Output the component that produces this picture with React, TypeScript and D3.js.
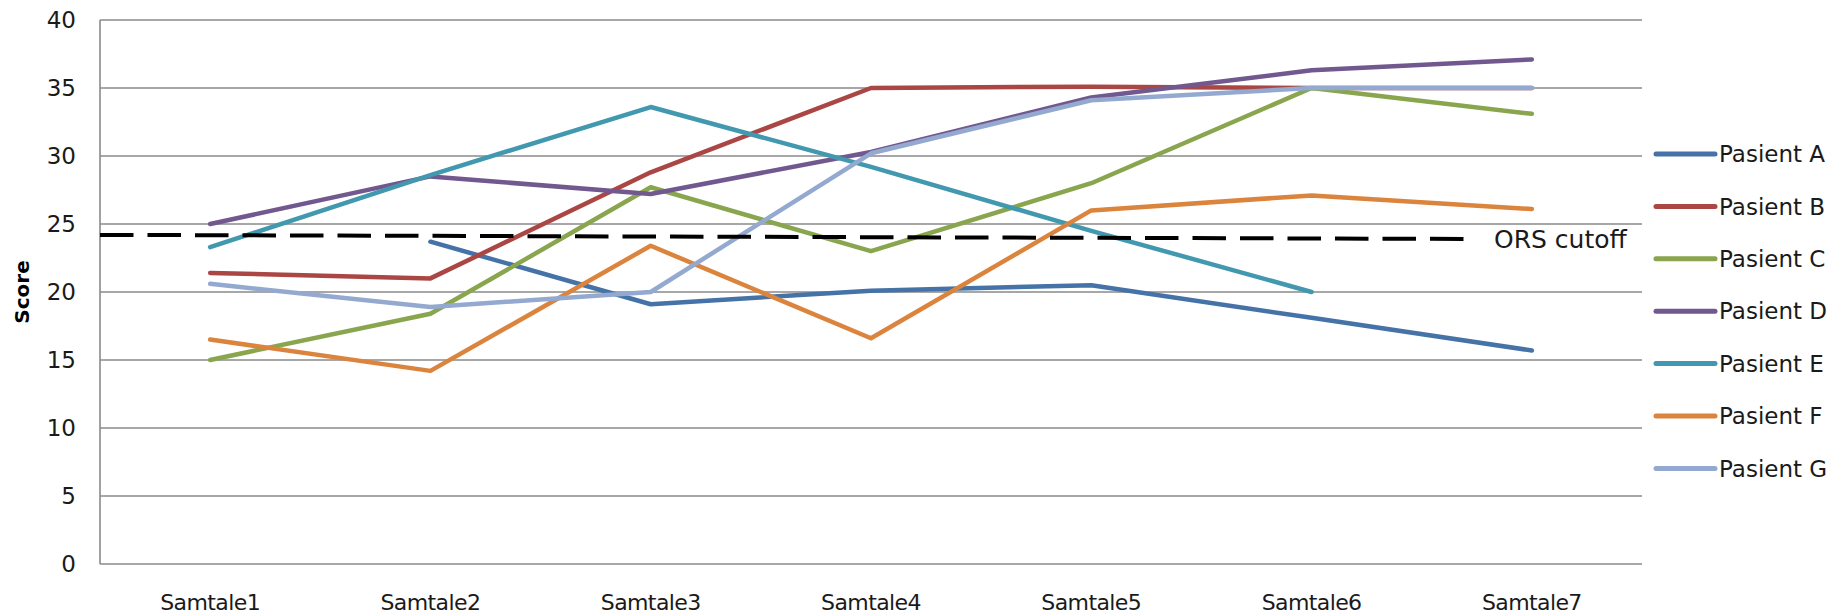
import React, { useEffect, useRef } from 'react';
import * as d3 from 'd3';

const WIDTH = 1841;
const HEIGHT = 616;

// categories along the x axis
const sessions = ['Samtale 1', 'Samtale 2', 'Samtale 3', 'Samtale 4', 'Samtale 5', 'Samtale 6', 'Samtale 7'];

// one array per patient (null = no conversation)
const pasientA = [null, 23.7, 19.1, 20.1, 20.5, 18.1, 15.7];
const pasientB = [21.4, 21.0, 28.8, 35.0, 35.1, 35.0, 35.0];
const pasientC = [15.0, 18.4, 27.7, 23.0, 28.0, 35.0, 33.1];
const pasientD = [25.0, 28.5, 27.2, 30.3, 34.3, 36.3, 37.1];
const pasientE = [23.3, 28.6, 33.6, 29.2, 24.5, 20.0, null];
const pasientF = [16.5, 14.2, 23.4, 16.6, 26.0, 27.1, 26.1];
const pasientG = [20.6, 18.9, 20.0, 30.2, 34.1, 35.0, 35.0];

const seriesNames = ['Pasient A', 'Pasient B', 'Pasient C', 'Pasient D', 'Pasient E', 'Pasient F', 'Pasient G'];
const seriesValues = [pasientA, pasientB, pasientC, pasientD, pasientE, pasientF, pasientG];
const seriesColors = ['#4572A7', '#AA4643', '#89A54E', '#71588F', '#4198AF', '#DB843D', '#93A9CF'];

const yTicks = [0, 5, 10, 15, 20, 25, 30, 35, 40];

// the hand drawn cutoff line, start and end value
const cutoffValues = [24.2, 23.9];
const cutoffLabel = 'ORS cutoff';

const FONT = '"DejaVu Sans", sans-serif';

function Chart() {
  const ref = useRef<SVGSVGElement>(null);

  useEffect(() => {
    const svg = d3.select(ref.current);
    svg.selectAll('*').remove();

    const plot = { left: 100, right: 1642, top: 20, bottom: 564 };

    const x = d3.scaleBand().domain(sessions).range([plot.left, plot.right]);
    const cx = (c: string) => (x(c) as number) + x.bandwidth() / 2;
    const y = d3.scaleLinear().domain([0, 40]).range([plot.bottom, plot.top]);

    // gridlines
    svg
      .append('g')
      .selectAll('line')
      .data(yTicks)
      .enter()
      .append('line')
      .attr('x1', plot.left)
      .attr('x2', plot.right)
      .attr('y1', (d) => y(d))
      .attr('y2', (d) => y(d))
      .attr('stroke', '#8a8a8a')
      .attr('stroke-width', 1.6);

    // y axis line
    svg
      .append('line')
      .attr('x1', plot.left)
      .attr('x2', plot.left)
      .attr('y1', y(40))
      .attr('y2', y(0))
      .attr('stroke', '#8a8a8a')
      .attr('stroke-width', 1.6);

    // y tick labels
    svg
      .append('g')
      .selectAll('text')
      .data(yTicks)
      .enter()
      .append('text')
      .attr('x', 76)
      .attr('y', (d) => y(d))
      .attr('dy', '0.36em')
      .attr('text-anchor', 'end')
      .attr('font-family', FONT)
      .attr('font-size', 23)
      .attr('fill', '#1a1a1a')
      .text((d) => d);

    // x labels
    svg
      .append('g')
      .selectAll('text')
      .data(sessions)
      .enter()
      .append('text')
      .attr('x', (d) => cx(d))
      .attr('y', 610)
      .attr('text-anchor', 'middle')
      .attr('font-family', FONT)
      .attr('font-size', 22)
      .attr('letter-spacing', -0.6)
      .attr('fill', '#1a1a1a')
      .text((d) => d.replace(' ', ''));

    // axis title
    svg
      .append('text')
      .attr('transform', `translate(29,292) rotate(-90)`)
      .attr('text-anchor', 'middle')
      .attr('font-family', FONT)
      .attr('font-weight', 'bold')
      .attr('font-size', 20)
      .attr('fill', '#000')
      .text('Score');

    // series lines
    const line = d3
      .line<number | null>()
      .defined((d) => d != null)
      .x((_d, i) => cx(sessions[i]))
      .y((d) => y(d as number));

    seriesValues.forEach((vals, i) => {
      svg
        .append('path')
        .datum(vals)
        .attr('fill', 'none')
        .attr('stroke', seriesColors[i])
        .attr('stroke-width', 4.5)
        .attr('stroke-linejoin', 'round')
        .attr('stroke-linecap', 'round')
        .attr('d', line);
    });

    // cutoff dashes, spans most of the plot width
    const frac = d3.scaleLinear().domain([0, 1]).range([plot.left, plot.right]);
    svg
      .append('line')
      .attr('x1', frac(0))
      .attr('x2', frac(0.891))
      .attr('y1', y(cutoffValues[0]))
      .attr('y2', y(cutoffValues[1]))
      .attr('stroke', '#000')
      .attr('stroke-width', 4)
      .attr('stroke-dasharray', '33.5 14');

    svg
      .append('text')
      .attr('x', frac(0.904))
      .attr('y', y(cutoffValues[1]))
      .attr('dy', '0.36em')
      .attr('font-family', FONT)
      .attr('font-size', 25)
      .attr('fill', '#1a1a1a')
      .text(cutoffLabel);

    // legend
    const legend = svg
      .append('g')
      .selectAll('g')
      .data(seriesNames)
      .enter()
      .append('g')
      .attr('transform', (_d, i) => `translate(1656,${154 + i * 52.4})`);

    legend
      .append('line')
      .attr('x1', 0)
      .attr('x2', 59)
      .attr('stroke', (_d, i) => seriesColors[i])
      .attr('stroke-width', 5)
      .attr('stroke-linecap', 'round');

    legend
      .append('text')
      .attr('x', 63)
      .attr('dy', '0.36em')
      .attr('font-family', FONT)
      .attr('font-size', 23)
      .attr('fill', '#1a1a1a')
      .text((d) => d);
  }, []);

  return (
    <svg
      ref={ref}
      width={WIDTH}
      height={HEIGHT}
      style={{ position: 'absolute', left: 0, top: 0, background: '#fff' }}
    />
  );
}

export default function App() {
  return <Chart />;
}
